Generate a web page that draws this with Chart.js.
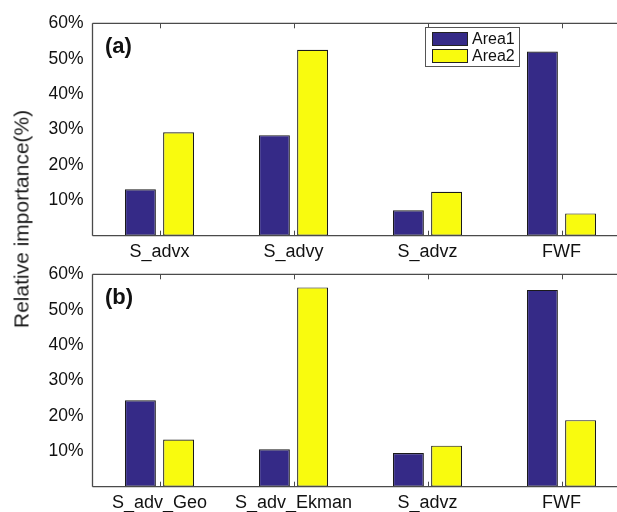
<!DOCTYPE html>
<html>
<head>
<meta charset="utf-8">
<script src="https://cdn.jsdelivr.net/npm/chart.js@4/dist/chart.umd.min.js"></script>
<style>
  html, body { margin: 0; padding: 0; background: #fff; width: 617px; height: 512px; overflow: hidden; }
  #wrap { position: relative; width: 617px; height: 512px; overflow: hidden; }
  canvas { position: absolute; left: 0; }
  #c1 { top: 0; }
  #c2 { top: 251px; }
  #ytitle {
    position: absolute; left: 21px; top: 219px;
    transform: translate(-50%, -50%) rotate(-90deg);
    font: 21px "Liberation Sans", Arial, sans-serif; line-height: 21px;
    white-space: nowrap; color: #1a1a1a;
  }
</style>
</head>
<body>
<div id="wrap">
  <canvas id="c1" width="640" height="262"></canvas>
  <canvas id="c2" width="640" height="262"></canvas>
  <div id="ytitle">Relative importance(%)</div>
</div>
<script>
// ---- data ----
const categoriesA = ['S_advx', 'S_advy', 'S_advz', 'FWF'];
const categoriesB = ['S_adv_Geo', 'S_adv_Ekman', 'S_advz', 'FWF'];
const seriesNames = ['Area1', 'Area2'];
const area1A = [13.1, 28.4, 7.2, 52.0];
const area2A = [29.2, 52.5, 12.4, 6.3];
const area1B = [24.4, 10.6, 9.5, 55.6];
const area2B = [13.3, 56.3, 11.6, 18.8];
const yTicks = [10, 20, 30, 40, 50, 60];
const panelLabels = ['(a)', '(b)'];

// ---- styles ----
const COLORS = ['#352a87', '#f9fb0e'];
const FONT = '"Liberation Sans", Arial, sans-serif';
const AXIS_COLOR = '#4a4a4a';

const framePlugin = {
  id: 'frame',
  afterDraw(chart, args, opts) {
    const ctx = chart.ctx;
    const a = chart.chartArea;
    const xs = chart.scales.x;
    ctx.save();
    ctx.strokeStyle = AXIS_COLOR;
    ctx.lineWidth = 1.3;
    ctx.beginPath();
    ctx.moveTo(a.left, a.top); ctx.lineTo(chart.width, a.top);
    ctx.moveTo(a.left, a.top); ctx.lineTo(a.left, a.bottom);
    ctx.moveTo(a.left, a.bottom); ctx.lineTo(chart.width, a.bottom);
    ctx.stroke();
    ctx.lineWidth = 1;
    ctx.beginPath();
    for (let i = 0; i < chart.data.labels.length; i++) {
      const x = Math.round(xs.getPixelForValue(i)) + 0.5;
      ctx.moveTo(x, a.top); ctx.lineTo(x, a.top + 5);
      ctx.moveTo(x, a.bottom); ctx.lineTo(x, a.bottom - 5);
    }
    ctx.stroke();
    // panel label
    ctx.fillStyle = '#111';
    ctx.font = 'bold 22px ' + FONT;
    ctx.textBaseline = 'middle';
    ctx.textAlign = 'left';
    ctx.fillText(opts.label, a.left + 12.5, a.top + 24);
    // legend
    if (opts.legend) {
      const bx = 425.5, by = 27.5, bw = 94, bh = 39;
      ctx.fillStyle = '#fff';
      ctx.fillRect(bx, by, bw, bh);
      ctx.strokeStyle = '#555';
      ctx.lineWidth = 1;
      ctx.strokeRect(bx, by, bw, bh);
      ctx.font = '16px ' + FONT;
      chart.data.datasets.forEach((ds, i) => {
        const sy = by + 5 + i * 17;
        ctx.fillStyle = ds.backgroundColor;
        ctx.fillRect(bx + 7, sy, 35, 13);
        ctx.strokeStyle = '#222';
        ctx.strokeRect(bx + 7, sy, 35, 13);
        ctx.fillStyle = '#111';
        ctx.textBaseline = 'middle';
        ctx.fillText(ds.label, bx + 46.5, sy + 7);
      });
    }
    ctx.restore();
  }
};

function makeChart(id, labels, d1, d2, panelLabel, showLegend) {
  return new Chart(document.getElementById(id), {
    type: 'bar',
    data: {
      labels: labels,
      datasets: [
        { label: seriesNames[0], data: d1, backgroundColor: COLORS[0], borderColor: '#1a1a1a', borderWidth: 1.2, borderSkipped: false },
        { label: seriesNames[1], data: d2, backgroundColor: COLORS[1], borderColor: '#1a1a1a', borderWidth: 1.2, borderSkipped: false }
      ]
    },
    options: {
      responsive: false,
      animation: false,
      devicePixelRatio: 1,
      categoryPercentage: 0.57,
      barPercentage: 0.81,
      layout: { padding: { top: 23.3, right: 11.5, left: 0, bottom: 0 } },
      plugins: {
        legend: { display: false },
        tooltip: { enabled: false },
        frame: { label: panelLabel, legend: showLegend }
      },
      scales: {
        x: {
          grid: { display: false, drawTicks: false },
          border: { display: false },
          ticks: { color: '#111', font: { family: FONT, size: 18 }, padding: 6, maxRotation: 0, autoSkip: false },
          afterFit(s) { s.height = 26.3; }
        },
        y: {
          min: 0, max: 60,
          grid: { display: false, drawTicks: false },
          border: { display: false },
          afterBuildTicks(s) { s.ticks = yTicks.map(v => ({ value: v })); },
          ticks: {
            color: '#111', font: { family: FONT, size: 17.5 }, padding: 9,
            callback: v => v + '%'
          },
          afterFit(s) { s.width = 92.5; }
        }
      }
    },
    plugins: [framePlugin]
  });
}

makeChart('c1', categoriesA, area1A, area2A, panelLabels[0], true);
makeChart('c2', categoriesB, area1B, area2B, panelLabels[1], false);
</script>
</body>
</html>
